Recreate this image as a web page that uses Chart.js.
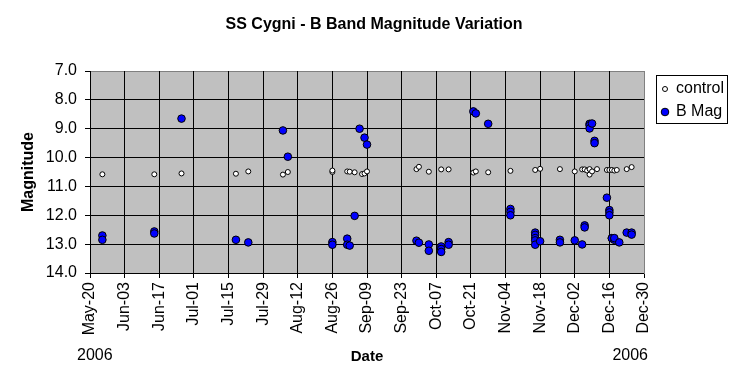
<!DOCTYPE html>
<html>
<head>
<meta charset="utf-8">
<script src="https://cdn.jsdelivr.net/npm/chart.js@4"></script>
<style>
  body { margin: 0; background: #fff; }
  canvas { display: block; }
</style>
</head>
<body>
<canvas id="chart" width="748" height="384"></canvas>
<script>
const controlDates = ['05-25', '06-15', '06-26', '07-18', '07-23', '08-06', '08-08', '08-26', '08-26', '09-01',
    '09-02', '09-04', '09-07', '09-08', '09-09', '09-29', '09-30', '10-04', '10-09', '10-12',
    '10-22', '10-23', '10-28', '11-06', '11-16', '11-18', '11-26', '12-02', '12-05', '12-06',
    '12-07', '12-08', '12-08', '12-09', '12-11', '12-15', '12-16', '12-17', '12-18', '12-19',
    '12-23', '12-25'];
const controlMags = [10.58, 10.58, 10.55, 10.56, 10.48, 10.59, 10.50, 10.50, 10.45, 10.48,
    10.49, 10.51, 10.57, 10.55, 10.48, 10.40, 10.32, 10.49, 10.41, 10.41,
    10.52, 10.48, 10.51, 10.46, 10.43, 10.39, 10.40, 10.48, 10.41, 10.41,
    10.45, 10.59, 10.40, 10.48, 10.40, 10.43, 10.43, 10.43, 10.45, 10.43,
    10.40, 10.33];

const bMagDates = ['05-25', '05-25', '06-15', '06-15', '06-26', '07-18', '07-23', '08-06', '08-08', '08-26',
    '08-26', '09-01', '09-01', '09-02', '09-04', '09-06', '09-08', '09-09', '09-29', '09-30',
    '10-04', '10-04', '10-09', '10-09', '10-09', '10-12', '10-12', '10-22', '10-23', '10-28',
    '11-06', '11-06', '11-06', '11-16', '11-16', '11-16', '11-16', '11-16', '11-18', '11-26',
    '11-26', '12-02', '12-05', '12-06', '12-06', '12-08', '12-08', '12-08', '12-09', '12-10',
    '12-10', '12-15', '12-16', '12-16', '12-16', '12-17', '12-17', '12-18', '12-18', '12-20',
    '12-23', '12-25', '12-25'];
const bMagMags = [12.70, 12.85, 12.56, 12.63, 8.65, 12.85, 12.94, 9.06, 9.97, 12.93,
    13.02, 12.81, 13.02, 13.05, 12.02, 9.00, 9.31, 9.55, 12.88, 12.95,
    13.01, 13.23, 13.08, 13.17, 13.27, 12.93, 13.02, 8.40, 8.47, 8.83,
    11.78, 11.88, 12.00, 12.60, 12.68, 12.79, 12.87, 13.02, 12.90, 12.85,
    12.94, 12.87, 13.01, 12.35, 12.42, 8.83, 8.88, 8.99, 8.82, 9.42,
    9.50, 11.39, 11.82, 11.90, 12.00, 12.79, 12.80, 12.85, 12.79, 12.94,
    12.60, 12.60, 12.67];

const seriesNames = ['control', 'B Mag'];
const yearLabel = '2006';
const months = ['Jan', 'Feb', 'Mar', 'Apr', 'May', 'Jun', 'Jul', 'Aug', 'Sep', 'Oct', 'Nov', 'Dec'];

// x axis runs in days from May-20 to Dec-30, a tick every 14 days
const START = Date.UTC(2006, 4, 20);
const DAY = 86400000;
const xMax = 224;
const xStep = 14;

const FONT = '"Liberation Sans", Arial, sans-serif';
Chart.defaults.font.family = FONT;
Chart.defaults.color = '#000';

function dayOf(s) {
    const [m, d] = s.split('-').map(Number);
    return (Date.UTC(2006, m - 1, d) - START) / DAY;
}

function dayLabel(v) {
    const dt = new Date(START + v * DAY);
    return months[dt.getUTCMonth()] + '-' + String(dt.getUTCDate()).padStart(2, '0');
}

function toPoints(dates, mags) {
    return dates.map((d, i) => ({ x: dayOf(d), y: mags[i] }));
}

const crisp = v => Math.floor(v) + 0.5;

// grey plot area plus grid: solid on whole magnitudes, dashed on halves
const plotGrid = {
    id: 'plotGrid',
    beforeDatasetsDraw(chart) {
        const { ctx, chartArea: a, scales: { x, y } } = chart;
        ctx.save();
        ctx.fillStyle = '#c0c0c0';
        ctx.fillRect(a.left, a.top, a.right - a.left, a.bottom - a.top);
        ctx.lineWidth = 1;
        y.ticks.forEach(t => {
            const py = crisp(y.getPixelForValue(t.value));
            ctx.strokeStyle = t.value === 7 ? '#808080' : '#000';
            ctx.setLineDash(Number.isInteger(t.value) ? [] : [4, 3]);
            ctx.beginPath();
            ctx.moveTo(a.left, py);
            ctx.lineTo(a.right, py);
            ctx.stroke();
        });
        ctx.setLineDash([]);
        x.ticks.forEach(t => {
            const px = crisp(x.getPixelForValue(t.value));
            ctx.strokeStyle = t.value === xMax ? '#808080' : '#000';
            ctx.beginPath();
            ctx.moveTo(px, a.top);
            ctx.lineTo(px, a.bottom + 1);
            ctx.stroke();
        });
        ctx.restore();
    }
};

const extras = {
    id: 'extras',
    afterDraw(chart) {
        const { ctx } = chart;
        ctx.save();
        // year under both ends of the date axis
        ctx.font = '16px ' + FONT;
        ctx.fillStyle = '#000';
        ctx.textBaseline = 'middle';
        ctx.textAlign = 'left';
        ctx.fillText(yearLabel, 77, 356);
        ctx.textAlign = 'right';
        ctx.fillText(yearLabel, 648, 356);

        // boxed legend
        const bx = 656.5, by = 75.5, bw = 71, bh = 48;
        ctx.fillStyle = '#fff';
        ctx.fillRect(bx, by, bw, bh);
        ctx.strokeStyle = '#000';
        ctx.lineWidth = 1;
        ctx.strokeRect(bx, by, bw, bh);
        ctx.textAlign = 'left';
        chart.data.datasets.forEach((ds, i) => {
            const y = 89 + i * 23;
            ctx.beginPath();
            ctx.arc(665, y, ds.pointRadius, 0, Math.PI * 2);
            ctx.fillStyle = ds.pointBackgroundColor;
            ctx.fill();
            ctx.strokeStyle = ds.pointBorderColor;
            ctx.stroke();
            ctx.fillStyle = '#000';
            ctx.fillText(ds.label, 676, y);
        });
        ctx.restore();
    }
};

new Chart(document.getElementById('chart'), {
    type: 'scatter',
    data: {
        datasets: [{
            label: seriesNames[0],
            data: toPoints(controlDates, controlMags),
            pointRadius: 2.5,
            pointBackgroundColor: '#fff',
            pointBorderColor: '#000',
            pointBorderWidth: 1
        }, {
            label: seriesNames[1],
            data: toPoints(bMagDates, bMagMags),
            pointRadius: 3.8,
            pointBackgroundColor: '#0000ff',
            pointBorderColor: '#000',
            pointBorderWidth: 1
        }]
    },
    options: {
        responsive: false,
        animation: false,
        layout: { padding: 0 },
        plugins: {
            legend: { display: false },
            tooltip: { enabled: false },
            title: {
                display: true,
                text: 'SS Cygni - B Band Magnitude Variation',
                font: { size: 16, weight: 'bold', lineHeight: 1.2 },
                color: '#000',
                padding: { top: 15, bottom: 36.8 }
            }
        },
        scales: {
            x: {
                type: 'linear',
                min: 0,
                max: xMax,
                afterFit: s => { s.height = 111; },
                ticks: {
                    stepSize: xStep,
                    autoSkip: false,
                    minRotation: 90,
                    maxRotation: 90,
                    padding: 4,
                    font: { size: 16 },
                    callback: v => dayLabel(v)
                },
                grid: {
                    drawOnChartArea: false,
                    tickColor: '#000',
                    tickLength: 5
                },
                border: { color: '#000', width: 1 },
                title: {
                    display: true,
                    text: 'Date',
                    font: { size: 15, weight: 'bold' },
                    padding: { top: 0, bottom: 18 }
                }
            },
            y: {
                reverse: true,
                min: 7,
                max: 14,
                afterFit: s => { s.width = 90; },
                ticks: {
                    stepSize: 0.5,
                    padding: 8,
                    font: { size: 16 },
                    callback: v => Number.isInteger(v) ? v.toFixed(1) : ''
                },
                grid: {
                    drawOnChartArea: false,
                    tickColor: c => c.tick && Number.isInteger(c.tick.value) ? '#000' : 'rgba(0,0,0,0)',
                    tickLength: 5
                },
                border: { color: '#000', width: 1 },
                title: {
                    display: true,
                    text: 'Magnitude',
                    font: { size: 16, weight: 'bold' },
                    padding: { top: 19, bottom: 0 }
                }
            },
            // empty right-hand axis that only reserves the legend's column
            side: {
                position: 'right',
                afterFit: s => { s.width = 104; },
                ticks: { display: false },
                grid: { display: false },
                border: { display: false }
            }
        }
    },
    plugins: [plotGrid, extras]
});
</script>
</body>
</html>
